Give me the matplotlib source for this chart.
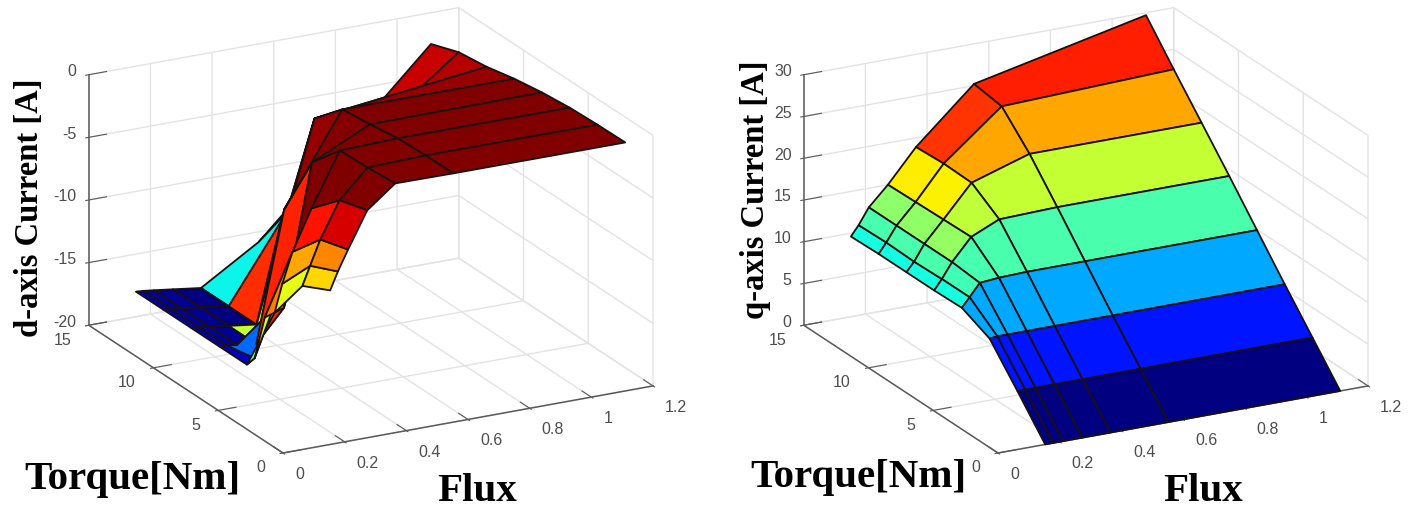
import numpy as np
import matplotlib
matplotlib.use('Agg')
import matplotlib.pyplot as plt
from mpl_toolkits.mplot3d import proj3d

# grid
flux = [0.153, 0.178, 0.211, 0.273, 0.364, 0.552, 1.11]
torque = [0, 2.14, 4.29, 6.43, 8.57, 10.71, 12.86, 15]

id_current = [
    [-7.7, -6.3, -4.7, -1.85, -0.1, -0.14, -0.16],
    [-8.8, -7.3, -5.35, -2.5, -0.3, -0.16, -0.2],
    [-12.4, -10.2, -7.8, -4.6, -0.4, -0.26, -0.3],
    [-18.0, -17.6, -14.5, -14.0, -2.8, -0.6, -0.54],
    [-18.0, -18.05, -18.15, -18.35, -8.0, -0.86, -0.9],
    [-18.0, -18.05, -18.15, -18.35, -18.65, -3.04, -1.4],
    [-18.0, -18.05, -18.15, -18.35, -18.65, -12.0, -1.7],
    [-18.0, -18.05, -18.15, -18.35, -18.65, -15.8, -2.5],
]
iq_current = [
    [0, 0, 0, 0, 0, 0, 0],
    [4.2, 4.2, 4.2, 4.2, 4.2, 4.2, 4.2],
    [8.3, 8.4, 8.4, 8.4, 8.4, 8.4, 8.4],
    [9.8, 10.9, 12.4, 12.6, 12.7, 12.7, 12.7],
    [9.7, 10.9, 12.7, 15.3, 16.8, 17.0, 17.0],
    [9.7, 10.8, 12.7, 15.2, 19.0, 21.2, 21.2],
    [9.7, 10.9, 12.7, 15.1, 19.1, 24.7, 25.4],
    [9.6, 10.8, 12.7, 15.0, 18.9, 25.2, 29.7],
]

flux_ticks = [0, 0.2, 0.4, 0.6, 0.8, 1, 1.2]
flux_ticklabels = ['0', '0.2', '0.4', '0.6', '0.8', '1', '1.2']
torque_ticks = [0, 5, 10, 15]
id_ticks = [-20, -15, -10, -5, 0]
iq_ticks = [0, 5, 10, 15, 20, 25, 30]

W, H = 1418, 511
TICK_GRAY = '#4d4d4d'
fig = plt.figure(figsize=(W / 100, H / 100), dpi=100, facecolor='white')


def to_pixels(ax, x, y, z):
    xs, ys, _ = proj3d.proj_transform(x, y, z, ax.get_proj())
    px, py = ax.transData.transform((xs, ys))
    return px, H - py


def fit_axes(ax, zmin, origin, x_end):
    # move the axes until the floor corners land where they are in the picture
    side = 500.0
    left, top = origin[0] - 250.0, origin[1] - 250.0
    for i in range(4):
        ax.set_position([left / W, 1 - (top + side) / H, side / W, side / H])
        ax.apply_aspect()
        p0 = to_pixels(ax, 0, 0, zmin)
        p1 = to_pixels(ax, 1.2, 0, zmin)
        scale = (x_end[0] - origin[0]) / (p1[0] - p0[0])
        left += origin[0] - p0[0]
        top += origin[1] - p0[1]
        cx, cy = left + side / 2, top + side / 2
        cx = origin[0] + (cx - origin[0]) * scale
        cy = origin[1] + (cy - origin[1]) * scale
        side *= scale
        left, top = cx - side / 2, cy - side / 2
    ax.set_position([left / W, 1 - (top + side) / H, side / W, side / H])
    ax.apply_aspect()


def tick_text(ax, pos, offset, text, ha):
    fig.text((pos[0] + offset[0]) / W, 1 - (pos[1] + offset[1]) / H, text, ha=ha, va='center',
             fontsize=11.5, color=TICK_GRAY, family='Liberation Sans')


def draw_surface(z_values, z_ticks, clim, origin, x_end):
    ax = fig.add_axes([0, 0, 0.3, 0.3], projection='3d')
    ax.patch.set_alpha(0)
    ax.set_proj_type('ortho')
    ax.view_init(elev=20.2, azim=-117.7)
    ax.set_box_aspect((418, 418, 267))

    X, Y = np.meshgrid(flux, torque)
    Z = np.array(z_values, dtype=float)
    # flipped so every face takes the colour of its high flux corner
    X, Y, Z = X[:, ::-1], Y[:, ::-1], Z[:, ::-1]
    norm = plt.Normalize(clim[0], clim[1])
    surf = ax.plot_surface(X, Y, Z, rstride=1, cstride=1, facecolors=plt.cm.jet(norm(Z)),
                           shade=False, linewidth=1.3, antialiased=True)
    surf.set_edgecolor('#1a1010')

    ax.set_xlim(0, 1.2)
    ax.set_ylim(0, 15)
    ax.set_zlim(z_ticks[0], z_ticks[-1])
    ax.set_xticks(flux_ticks)
    ax.set_yticks(torque_ticks)
    ax.set_zticks(z_ticks)
    ax.set_xticklabels([])
    ax.set_yticklabels([])
    ax.set_zticklabels([])

    for axis in (ax.xaxis, ax.yaxis, ax.zaxis):
        axis.set_pane_color((1, 1, 1, 0))
        axis.pane.set_edgecolor('#dedede')
        axis.pane.set_linewidth(1.0)
        axis.line.set_color('#5a5a5a')
        axis.line.set_linewidth(1.1)
        axis._axinfo['grid']['color'] = '#e3e3e3'
        axis._axinfo['grid']['linewidth'] = 1.0
        axis._axinfo['tick']['inward_factor'] = 0.1
        axis._axinfo['tick']['outward_factor'] = 0.6
        axis.set_tick_params(color='#5a5a5a', width=1.0)

    fit_axes(ax, z_ticks[0], origin, x_end)

    # tick labels sit at fixed pixel offsets from the projected tick
    zmin = z_ticks[0]
    for t, text in zip(flux_ticks, flux_ticklabels):
        tick_text(ax, to_pixels(ax, t, 0, zmin), (12, 21.5), text, 'left')
    for t in torque_ticks:
        tick_text(ax, to_pixels(ax, 0, t, zmin), (-17.5, 15), str(t), 'right')
    for t in z_ticks:
        tick_text(ax, to_pixels(ax, 0, 15, t), (-12, -3), str(t), 'right')
    return ax


draw_surface(id_current, id_ticks, (-18.65, -0.5), (283, 453), (653, 386))
draw_surface(iq_current, iq_ticks, (0, 29), (998, 453), (1368, 386))

label_font = dict(family='Liberation Serif', weight='bold', color='black')
for x, name, center_y in [(30, 'd-axis Current [A]', 208), (756, 'q-axis Current [A]', 190)]:
    fig.text(x / W, 1 - center_y / H, name, rotation=90, ha='center', va='center',
             fontsize=23.5, **label_font)
for x, y in [(132, 479), (858, 478)]:
    fig.text(x / W, 1 - y / H, 'Torque[Nm]', ha='center', va='center', fontsize=29.5, **label_font)
for x, y in [(477, 491), (1203, 491)]:
    fig.text(x / W, 1 - y / H, 'Flux', ha='center', va='center', fontsize=29.5, **label_font)

fig.savefig('out.png', dpi=100)
